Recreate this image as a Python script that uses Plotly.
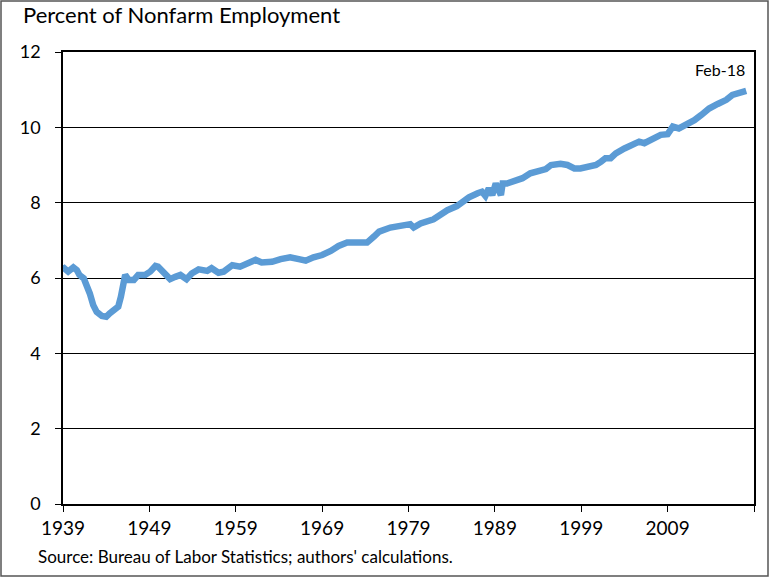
import plotly.graph_objects as go

# Decimal year and percent of nonfarm employment
years = [1939.0, 1939.15, 1939.6, 1940.2, 1940.6, 1940.9, 1941.4, 1941.8, 1942.1, 1942.5, 1942.9,
         1943.5, 1944.0, 1944.4, 1945.0, 1945.4, 1945.7, 1946.0, 1946.2, 1946.6, 1947.2,
         1947.7, 1948.5, 1949.1, 1949.7, 1950.0, 1950.4, 1951.0, 1951.4, 1952.0, 1952.6,
         1953.3, 1953.9, 1954.7, 1955.7, 1956.2, 1957.0, 1957.6, 1958.6, 1959.5, 1960.3,
         1961.3, 1962.0, 1963.2, 1964.2, 1965.3, 1966.3, 1967.1, 1968.0, 1969.0, 1970.0,
         1970.9, 1971.9, 1973.0, 1974.2, 1975.0, 1975.6, 1976.9, 1978.1, 1979.2, 1979.6,
         1980.4, 1981.9, 1982.7, 1983.5, 1984.6, 1985.0, 1986.0, 1987.0, 1987.5, 1987.9,
         1988.3, 1988.7, 1989.1, 1989.7, 1989.9, 1990.4, 1991.4, 1992.2, 1993.1, 1994.1,
         1994.9, 1995.5, 1996.6, 1997.4, 1998.2, 1998.9, 1999.9, 2000.7, 2001.3, 2001.8,
         2002.4, 2003.0, 2004.0, 2004.7, 2005.7, 2006.3, 2007.3, 2008.2, 2009.0, 2009.6,
         2010.3, 2011.1, 2012.1, 2012.9, 2013.8, 2014.8, 2015.8, 2016.5, 2017.3, 2018.1]
values = [6.24, 6.26, 6.17, 6.28, 6.21, 6.08, 5.99, 5.81, 5.59, 5.28, 5.10,
          4.99, 4.97, 5.06, 5.15, 5.24, 5.50, 5.86, 6.08, 5.95, 5.95,
          6.08, 6.08, 6.17, 6.32, 6.30, 6.21, 6.03, 5.97, 6.03, 6.08,
          5.97, 6.12, 6.23, 6.19, 6.26, 6.14, 6.17, 6.34, 6.30, 6.39,
          6.48, 6.41, 6.43, 6.50, 6.55, 6.50, 6.46, 6.55, 6.61, 6.72,
          6.85, 6.94, 6.96, 6.94, 7.10, 7.23, 7.34, 7.41, 7.43, 7.34,
          7.45, 7.56, 7.70, 7.80, 7.91, 7.98, 8.14, 8.25, 8.29, 8.18,
          8.38, 8.20, 8.51, 8.20, 8.51, 8.51, 8.60, 8.65, 8.78, 8.85,
          8.89, 9.00, 9.03, 9.00, 8.91, 8.91, 8.94, 9.00, 9.09, 9.18,
          9.18, 9.31, 9.44, 9.53, 9.62, 9.58, 9.69, 9.80, 9.82, 10.02,
          9.97, 10.06, 10.19, 10.33, 10.50, 10.62, 10.73, 10.86, 10.92, 10.97]

x_tick_vals = [1939, 1949, 1959, 1969, 1979, 1989, 1999, 2009, 2019]
x_tick_text = ["1939", "1949", "1959", "1969", "1979", "1989", "1999", "2009", ""]
y_tick_vals = [0, 2, 4, 6, 8, 10, 12]

FONT = "Lato"
W, H = 771, 578
ML, MR, MT, MB = 63, 17, 52, 74
PW, PH = W - ML - MR, H - MT - MB

fig = go.Figure()
fig.add_trace(go.Scatter(x=years, y=values, mode="lines",
                         line=dict(color="#5B9BD5", width=6.5),
                         hoverinfo="x+y", showlegend=False))

fig.update_layout(
    width=W, height=H,
    margin=dict(l=ML, r=MR, t=MT, b=MB),
    paper_bgcolor="white", plot_bgcolor="white",
    font=dict(family=FONT, color="black", size=18),
    xaxis=dict(range=[1939, 2019], tickvals=x_tick_vals, ticktext=x_tick_text,
               showgrid=False, zeroline=False, showline=True, linecolor="black",
               linewidth=1.5, mirror=True, ticks="outside", ticklen=6,
               tickcolor="black", tickfont=dict(size=19)),
    yaxis=dict(range=[0, 12], tickvals=y_tick_vals, showgrid=True,
               gridcolor="black", gridwidth=1, zeroline=False, showline=True,
               linecolor="black", linewidth=1.5, mirror=True, ticks="outside",
               ticklen=6, tickcolor="black", tickfont=dict(size=18),
               ticklabelstandoff=11),
    annotations=[
        dict(text="Percent of Nonfarm Employment", xref="paper", yref="paper",
             x=(21 - ML) / PW, y=1.0, xanchor="left", yanchor="bottom", yshift=22,
             showarrow=False, font=dict(size=22)),
        dict(text="Feb-18", xref="x", yref="paper", x=2018.2, y=1.0,
             xanchor="right", yanchor="top", yshift=-6, showarrow=False,
             font=dict(size=16)),
        dict(text="Source: Bureau of Labor Statistics; authors' calculations.",
             xref="paper", yref="paper", x=(36 - ML) / PW, y=0, xanchor="left",
             yanchor="top", yshift=-40, showarrow=False, font=dict(size=17)),
    ],
    shapes=[
        dict(type="rect", xref="paper", yref="paper",
             x0=(1 - ML) / PW, x1=(W - 3 - ML) / PW,
             y0=-(MB - 2) / PH, y1=1 + (MT - 1) / PH,
             line=dict(color="#555555", width=1.5), fillcolor="rgba(0,0,0,0)"),
    ],
)

fig.write_html("out.html", config={"displayModeBar": False},
               post_script="document.body.style.margin='0';document.body.style.overflow='hidden';")
